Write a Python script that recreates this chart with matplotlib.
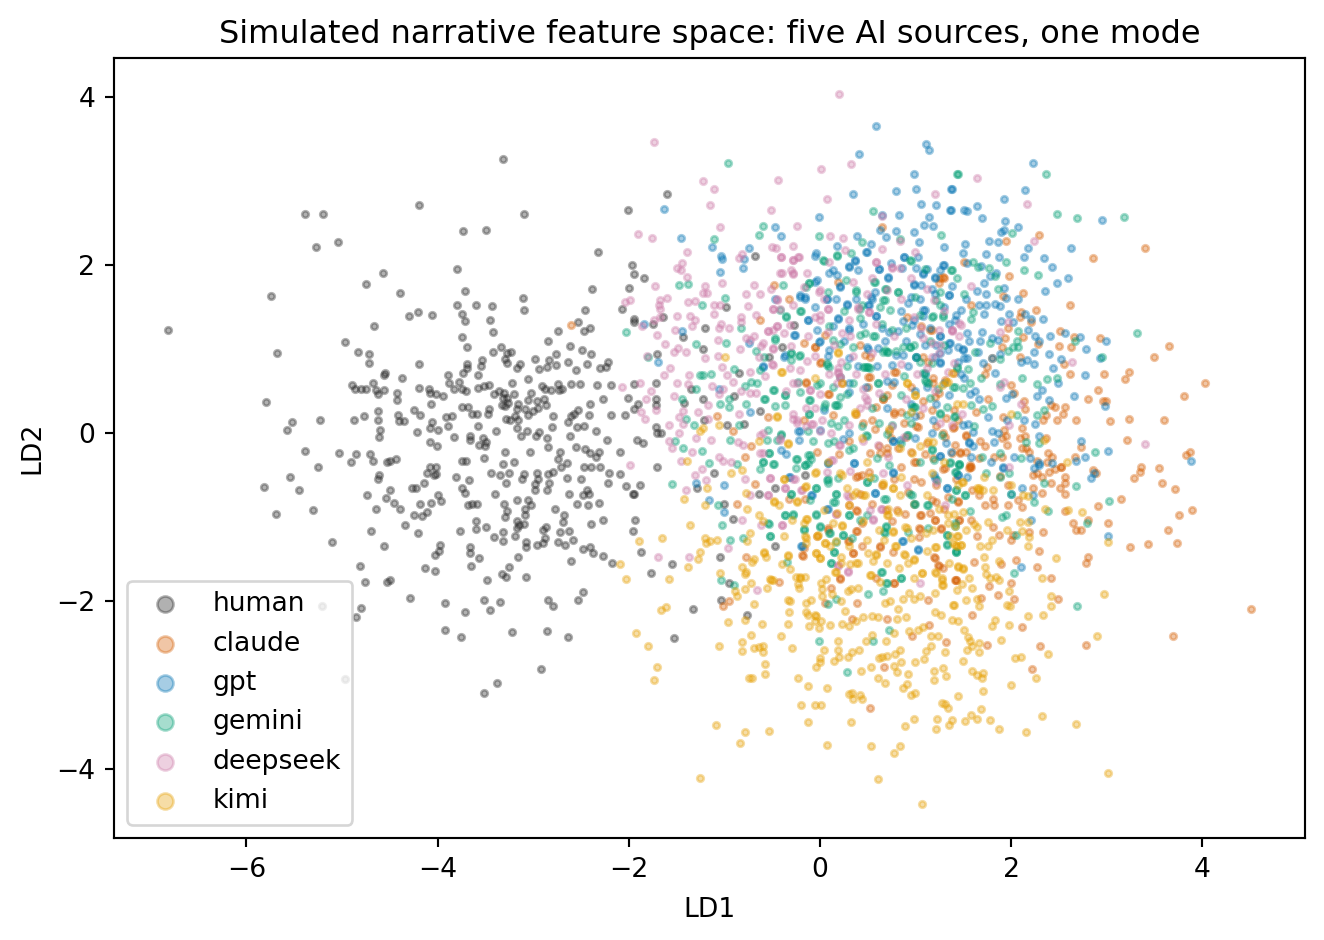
import matplotlib
matplotlib.use('Agg')
import matplotlib.pyplot as plt

# values as (LD1, LD2) pairs
human = [(-6.82,1.23),(-3.32,3.26),(-4.20,2.71),(-5.39,2.61),(-5.20,2.61),(-3.10,2.61),(-5.27,2.21),(-5.04,2.27),(-3.73,2.41),(-3.49,2.42),
(-3.80,1.95),(-4.57,1.90),(-4.75,1.77),(-4.39,1.67),(-5.74,1.63),(-3.71,1.69),(-3.11,1.61),(-2.32,2.16),(-2.38,1.72),(-3.80,1.52),
(-3.60,1.52),(-3.43,1.51),(-3.10,1.47),(-2.46,1.47),(-3.75,1.42),(-3.71,1.33),(-4.30,1.39),(-4.21,1.44),(-4.06,1.41),(-3.45,1.35),
(-3.42,1.20),(-4.67,1.27),(-4.97,1.08),(-4.83,0.97),(-4.72,0.94),(-4.72,0.83),(-5.68,0.95),(-4.20,0.82),(-3.74,1.14),(-3.69,1.02),
(-2.74,1.21),(-2.53,1.32),(-2.47,1.21),(-2.41,1.25),(-2.84,1.10),(-2.61,1.04),(-2.49,0.99),(-2.40,0.94),(-3.34,1.03),(-3.42,0.96),
(-3.23,0.96),(-3.27,0.95),(-2.98,0.88),(-2.76,0.94),(-2.83,0.87),(-2.64,0.84),(-3.54,0.87),(-3.29,0.88),(-3.27,0.83),(-3.55,0.80),
(-3.69,0.82),(-3.69,0.77),(-3.73,0.71),(-3.89,0.69),(-3.58,0.69),(-3.14,0.82),(-3.17,0.78),(-2.94,0.76),(-2.86,0.79),(-2.76,0.81),
(-2.55,0.75),(-2.44,0.82),(-2.30,0.78),(-2.24,0.79),(-2.22,0.85),(-4.55,0.72),(-4.56,0.69),(-4.37,0.65),(-4.90,0.57),(-4.68,0.59),
(-4.86,0.52),(-4.80,0.52),(-4.75,0.53),(-4.64,0.51),(-4.56,0.51),(-4.62,0.46),(-4.43,0.48),(-4.42,0.39),(-4.20,0.54),(-4.09,0.53),
(-4.08,0.48),(-4.02,0.46),(-3.94,0.44),(-4.07,0.35),(-3.88,0.59),(-3.83,0.53),(-3.78,0.61),(-3.75,0.52),(-3.70,0.50),(-3.58,0.54),
(-3.51,0.56),(-3.46,0.57),(-3.22,0.60),(-3.05,0.64),(-3.02,0.48),(-3.20,0.47),(-3.41,0.46),(-3.36,0.50),(-3.31,0.48),(-3.32,0.42),
(-3.27,0.42),(-3.26,0.36),(-3.33,0.33),(-3.29,0.32),(-3.16,0.35),(-3.17,0.29),(-3.05,0.39),(-2.96,0.38),(-2.89,0.40),(-2.87,0.33),
(-2.95,0.30),(-3.09,0.29),(-3.00,0.26),(-3.05,0.22),(-2.91,0.56),(-2.88,0.53),(-2.81,0.51),(-2.74,0.58),(-2.70,0.52),(-2.73,0.51),
(-2.60,0.58),(-2.51,0.58),(-2.33,0.57),(-2.19,0.57),(-2.27,0.41),(-2.41,0.34),(-2.53,0.28),(-2.57,0.23),(-2.60,0.20),(-2.64,0.13),
(-2.42,0.22),(-2.19,0.22),(-2.79,0.20),(-2.80,0.07),(-2.54,0.07),(-2.47,0.08),(-2.34,0.02),(-2.23,-0.08),(-2.61,-0.03),(-5.80,0.37),
(-5.52,0.13),(-5.58,0.04),(-5.23,0.16),(-4.88,0.15),(-4.77,0.20),(-4.62,0.26),(-4.62,0.15),(-4.60,0.04),(-4.61,-0.05),(-4.41,0.22),
(-4.40,0.14),(-4.35,0.14),(-4.25,0.28),(-4.18,0.21),(-4.22,0.01),(-4.06,0.13),(-4.08,0.06),(-4.00,0.04),(-3.91,0.19),(-3.85,0.20),
(-3.89,0.08),(-3.83,-0.05),(-4.08,-0.11),(-4.01,-0.15),(-3.74,0.31),(-3.68,0.31),(-3.64,0.23),(-3.59,0.23),(-3.46,0.29),(-3.47,0.23),
(-3.58,0.08),(-3.66,-0.03),(-3.66,-0.08),(-3.52,-0.06),(-3.49,-0.11),(-3.57,-0.14),(-3.50,-0.15),(-3.39,0.03),(-3.28,0.17),(-3.24,0.16),
(-3.19,0.20),(-3.16,0.15),(-3.17,0.06),(-3.13,-0.04),(-3.06,0.03),(-2.97,-0.04),(-2.94,0.01),(-2.86,-0.06),(-2.84,-0.17),(-3.03,-0.22),
(-3.30,-0.22),(-3.51,-0.30),(-3.75,-0.33),(-3.70,-0.33),(-3.32,-0.37),(-3.20,-0.35),(-2.72,-0.23),(-2.74,-0.31),(-2.55,-0.17),(-2.46,-0.19),
(-2.41,-0.24),(-2.31,-0.23),(-2.34,-0.29),(-2.47,-0.40),(-2.40,-0.41),(-2.30,-0.41),(-2.65,-0.36),(-2.71,-0.40),(-2.79,-0.46),(-2.84,-0.49),
(-2.83,-0.59),(-2.96,-0.48),(-2.95,-0.55),(-2.98,-0.61),(-2.98,-0.68),(-2.86,-0.68),(-3.10,-0.49),(-3.12,-0.55),(-3.25,-0.47),(-3.35,-0.50),
(-3.44,-0.48),(-3.28,-0.60),(-3.40,-0.72),(-2.65,-0.54),(-2.50,-0.55),(-2.21,-0.48),(-2.22,-0.60),(-2.44,-0.68),(-2.42,-0.73),(-2.48,-0.74),
(-2.63,-0.72),(-2.54,-0.84),(-2.43,-0.86),(-2.31,-0.83),(-2.27,-1.03),(-2.40,-1.08),(-2.77,-0.91),(-2.68,-0.97),(-2.69,-1.06),(-2.63,-1.16),
(-2.72,-1.18),(-2.58,-1.27),(-2.67,-1.33),(-2.74,-1.30),(-2.90,-1.31),(-2.96,-1.33),(-2.88,-1.25),(-2.87,-1.12),(-2.90,-1.15),(-2.48,-1.38),
(-2.41,-1.36),(-2.37,-1.43),(-2.27,-1.46),(-2.60,-1.52),(-2.18,-1.55),(-3.16,-1.47),(-3.08,-1.30),(-3.08,-1.36),(-3.17,-1.13),(-3.19,-1.23),
(-3.32,-1.18),(-3.32,-1.28),(-3.41,-1.24),(-3.49,-1.12),(-3.60,-1.05),(-3.60,-1.14),(-3.77,-1.17),(-3.17,-1.05),(-3.10,-1.08),(-3.15,-1.10),
(-3.09,-0.97),(-3.27,-0.93),(-3.30,-1.00),(-3.31,-0.84),(-3.17,-0.80),(-3.05,-0.80),(-3.02,-0.86),(-3.09,-0.90),(-3.59,-0.84),(-3.64,-0.85),
(-3.68,-0.86),(-3.71,-0.71),(-3.74,-0.65),(-3.67,-0.56),(-3.81,-0.52),(-4.02,-0.49),(-4.11,-0.47),(-4.08,-0.40),(-4.02,-0.40),(-4.04,-0.50),
(-4.14,-0.60),(-4.23,-0.66),(-4.27,-0.66),(-4.50,-0.68),(-4.74,-0.74),(-4.54,-0.77),(-4.46,-0.83),(-4.39,-0.90),(-4.65,-0.90),(-4.18,-0.84),
(-4.07,-0.83),(-3.96,-0.81),(-4.00,-0.74),(-4.11,-0.94),(-4.16,-0.99),(-4.25,-0.97),(-4.34,-1.09),(-4.70,-1.16),(-4.21,-1.19),(-5.11,-1.30),
(-4.56,-1.35),(-3.97,-1.33),(-3.99,-1.40),(-4.03,-1.45),(-4.81,-1.58),(-4.13,-1.61),(-4.03,-1.64),(-3.66,-1.36),(-3.66,-1.43),(-3.57,-1.49),
(-3.65,-1.58),(-3.25,-1.59),(-3.33,-1.68),(-3.28,-1.71),(-3.07,-1.71),(-3.48,-1.75),(-4.50,-1.75),(-5.03,-0.24),(-4.85,-0.25),(-4.71,-0.25),
(-4.68,-0.33),(-4.91,-0.35),(-5.39,-0.21),(-5.25,-0.40),(-5.54,-0.52),(-5.45,-0.68),(-5.82,-0.64),(-5.69,-0.96),(-5.30,-0.92),(-4.53,-0.34),
(-4.50,-0.33),(-4.44,-0.31),(-4.61,-0.50),(-4.62,-0.55),(-3.92,-2.02),(-3.71,-2.13),(-4.29,-1.96),(-4.53,-1.77),(-4.76,-1.77),(-4.85,-2.19),
(-4.80,-2.08),(-5.21,-2.06),(-4.97,-2.93),(-3.92,-2.35),(-3.76,-2.43),(-3.51,-3.10),(-3.38,-2.98),(-2.92,-2.81),(-3.22,-2.37),(-2.86,-2.36),
(-2.64,-2.43),(-2.85,-1.99),(-2.79,-2.06),(-2.48,-1.89),(-2.53,-1.99),(-3.45,-2.11),(-3.51,-1.99),(-3.35,-2.01),(-1.60,2.85),(-2.01,2.65),
(-0.68,2.11),(-1.97,2.00),(-1.95,1.89),(-1.84,1.85),(-2.00,1.73),(-2.07,1.48),(-0.98,1.50),(-1.94,1.36),(-1.95,1.32),(-1.75,1.30),
(-1.64,1.38),(-1.20,1.25),(-1.43,1.14),(-1.22,1.00),(-1.70,0.94),(-0.40,1.02),(-0.27,1.29),(-0.85,0.71),(-1.95,0.58),(-1.71,0.59),
(-1.35,0.52),(-0.90,0.44),(-2.01,0.42),(-1.71,0.41),(-1.71,0.33),(-1.42,0.36),(-1.22,0.41),(-1.90,0.34),(-1.94,0.29),(-2.04,0.21),
(-1.21,0.15),(-0.97,0.10),(-0.79,0.11),(-1.72,0.07),(-0.63,0.26),(-1.91,-0.08),(-1.85,-0.12),(-1.70,0.00),(-1.66,0.00),(-2.09,-0.23),
(-1.70,-0.40),(-2.09,-0.49),(-2.03,-0.63),(-1.88,-0.62),(-1.96,-0.73),(-1.94,-0.73),(-1.11,-0.47),(-1.29,-0.65),(-1.00,-0.85),(-0.91,-1.02),
(-1.93,-1.04),(-1.96,-1.16),(-1.87,-1.42),(-1.05,-1.47),(-1.55,-1.56),(-1.77,-1.67),(-0.95,-1.78),(-1.03,-1.99),(-1.33,-2.10),(-0.76,-2.16),
(-1.53,-2.44),(-0.47,-1.35),(-0.64,-0.72),(-0.16,-0.50),(-0.53,0.90),(-0.47,-0.66)]

claude = [(3.40,2.20),(2.86,2.08),(2.29,2.36),(1.95,2.29),(1.51,2.04),(1.98,1.87),(2.13,1.67),(1.92,1.63),(2.62,1.52),(1.58,1.52),
(2.26,1.46),(2.10,1.44),(2.09,1.38),(2.21,1.32),(1.97,1.25),(2.51,1.21),(2.66,1.14),(2.93,1.13),(3.65,1.04),(2.13,1.14),
(1.94,1.13),(1.91,1.03),(2.28,1.06),(2.50,1.04),(2.63,1.03),(3.50,0.90),(2.09,0.91),(1.80,0.89),(2.55,0.82),(1.75,0.79),
(3.23,0.73),(3.19,0.64),(2.62,0.70),(2.97,0.70),(1.73,0.70),(4.03,0.59),(2.00,0.57),(2.91,0.51),(2.03,0.48),(3.81,0.44),
(2.81,0.40),(2.96,0.38),(2.99,0.38),(2.14,0.38),(1.76,0.40),(2.46,0.31),(2.56,0.31),(2.15,0.29),(2.42,0.33),(2.54,0.23),
(1.63,0.25),(2.37,0.21),(2.34,0.16),(1.92,0.19),(2.48,0.15),(2.68,0.15),(3.04,0.14),(3.24,0.17),(3.60,0.15),(1.39,0.06),
(1.93,0.04),(2.11,0.06),(1.95,-0.03),(3.21,-0.08),(1.91,-0.06),(2.09,-0.06),(2.15,-0.04),(2.37,-0.06),(1.53,-0.03),(1.68,-0.09),
(1.96,-0.14),(1.73,-0.15),(1.41,-0.14),(2.73,-0.17),(2.11,-0.18),(2.16,-0.18),(2.19,-0.23),(2.39,-0.24),(2.43,-0.28),(3.87,-0.22),
(3.83,-0.26),(1.47,-0.24),(1.53,-0.23),(1.82,-0.28),(1.91,-0.29),(1.66,-0.30),(2.67,-0.29),(2.27,-0.33),(2.38,-0.35),(3.36,-0.40),
(3.55,-0.42),(2.52,-0.41),(1.57,-0.40),(3.35,-0.46),(3.29,-0.54),(3.58,-0.59),(3.72,-0.67),(3.15,-0.78),(2.91,-0.87),(3.89,-0.92),
(3.76,-0.98),(2.57,-0.93),(2.81,-1.04),(3.01,-1.07),(2.65,-1.07),(2.68,-1.15),(2.73,-1.15),(3.64,-1.15),(3.74,-1.31),(3.43,-1.32),
(3.25,-1.36),(2.34,-1.18),(2.29,-1.40),(2.81,-1.47),(2.78,-1.55),(2.27,-1.60),(2.42,-1.73),(2.49,-1.97),(4.51,-2.10),(3.70,-2.42),
(2.78,-2.52),(2.30,-2.54),(2.22,-2.81),(2.12,-2.31),(1.75,-2.52),(1.59,-2.17),(2.03,-1.97),(1.86,-1.93),(1.69,-1.96),(2.00,-1.78),
(1.77,-1.82),(1.42,-1.75),(1.61,-1.53),(1.90,-1.56),(2.05,-1.51),(1.87,-1.21),(1.64,-1.22),(1.81,-1.12),(1.58,-1.03),(1.46,-1.03),
(2.19,-1.18),(2.00,-1.27),(2.02,-1.21),(1.97,-0.86),(1.82,-0.86),(1.73,-0.86),(1.81,-0.79),(2.07,-0.80),(2.11,-0.88),(2.32,-0.71),
(2.23,-0.65),(1.97,-0.62),(1.45,-0.81),(1.66,-0.74),(1.59,-0.68),(2.51,-0.65),(2.57,-0.72),(2.57,-0.59),(2.56,-0.52),(2.42,-0.59),
(2.32,-0.52),(2.23,-0.50),(2.27,-0.47),(2.40,-0.46),(2.46,-0.43),(2.52,-0.41),(2.89,-0.47),(2.86,-0.44),(1.57,-0.38),(1.56,-0.42),
(1.89,-0.51),(-0.87,-0.85),(-0.77,-1.48),(-0.43,-1.77),(-0.95,-2.00),(-1.01,-2.06),(-0.32,-0.79),(-0.68,-0.61),(-0.18,-1.46),(-0.17,-1.37),
(0.12,-1.84),(0.05,-2.02),(0.39,-2.02),(0.34,-2.21),(0.70,-2.21),(0.96,-2.41),(1.14,-2.28),(1.32,-2.49),(0.67,-2.78),(0.52,-3.27),
(1.13,-1.99),(0.78,-1.79),(0.59,-1.72),(0.21,-1.74),(0.35,-1.43),(0.63,-1.36),(0.44,-1.34),(0.76,-1.42),(1.20,-1.49),(1.25,-1.58),
(1.42,-1.75),(0.29,-1.29),(0.39,-1.17),(0.08,-1.15),(-0.03,-1.22),(0.44,-1.07),(0.39,-0.93),(0.30,-0.86),(0.81,-0.92),(0.89,-0.96),
(1.06,-0.98),(1.04,-1.13),(1.04,-1.24),(1.27,-1.13),(1.20,-1.03),(0.40,-0.51),(0.51,-0.46),(0.70,-0.24),(0.98,-0.34),(1.31,-0.42),
(0.82,-0.18),(0.52,-0.24),(1.06,-0.58),(1.34,-0.76),(0.69,-0.92),(-0.03,-0.22),(-0.72,-0.15),(-0.91,0.02),(-0.78,-0.29),(-0.16,-0.78),
(-0.48,1.76),(-0.32,1.59),(-0.63,1.35),(0.65,2.45),(1.30,1.85),(1.25,1.78),(-0.17,1.07),(0.19,1.80),(-0.05,1.03),(0.05,1.17),
(0.42,1.05),(0.00,0.83),(0.47,0.93),(0.52,0.91),(0.91,1.38),(1.06,1.27),(1.15,1.23),(1.13,0.85),(1.40,0.71),(0.80,0.73),
(0.75,0.57),(0.23,0.59),(0.66,0.41),(0.78,0.25),(0.52,0.67),(0.10,0.47),(0.14,0.21),(-0.14,0.59),(-1.08,0.20),(-0.54,0.19),
(-0.17,0.15),(0.59,0.31),(1.17,0.27),(1.40,0.27),(1.01,0.08),(0.38,0.23),(-2.60,1.29),(0.88,0.12),(1.05,0.22),(1.22,0.08),
(1.31,-0.05),(1.12,-0.12),(0.95,-0.22),(0.74,-0.06),(0.58,0.05),(0.85,-0.40),(1.18,-0.30),(1.42,-0.55),(0.65,-0.62),(0.92,-0.70),
(-0.05,1.02),(0.01,0.85),(0.50,0.67),(0.78,0.73),(1.08,0.91),(-0.14,0.61),(0.09,0.47),(0.50,0.55),(0.66,0.41),(0.78,0.23),
(1.26,1.84),(1.29,1.86),(1.17,1.23),(1.18,0.59),(1.31,0.63),(1.20,0.43),(0.09,-1.13),(0.38,-1.17),(0.30,-1.29),(0.35,-1.43),
(0.63,-1.35),(0.44,-0.50),(0.38,-0.52),(0.70,-0.18),(0.63,-0.24),(1.01,-0.34),(1.03,0.07),(0.38,-0.92),(-0.19,-1.45),(0.21,-1.73),
(0.78,-1.79),(1.05,-0.98),(1.05,-1.14),(1.40,0.07),(1.29,0.00),(1.53,-0.02),(1.38,-0.24),(1.47,-0.22),(1.29,-0.43),(1.58,-0.40),
(1.22,-0.82),(1.45,-0.82),(1.17,-0.80),(1.20,-1.04),(1.46,-1.03),(1.27,-1.14),(1.19,-1.47),(1.24,-1.57),(1.29,-1.61),(1.41,-1.75),
(0.55,0.15),(0.70,0.45),(0.85,0.25),(0.95,0.55),(1.08,0.38),(1.25,0.48),(1.32,0.18),(0.90,-0.05),(1.10,-0.25),(0.62,-0.15),
(0.45,0.12),(0.30,-0.10),(1.18,0.65),(0.72,0.02),(0.98,-0.55),(1.22,-0.62),(0.78,-0.55),(0.55,-0.85),(0.98,-0.85),(1.15,-0.95),
(0.42,-0.72),(0.75,-1.05),(1.30,-0.90),(0.20,-0.25),(1.45,0.15)]

gpt = [(0.59,3.65),(1.11,3.44),(1.14,3.37),(0.41,3.32),(0.98,3.08),(0.80,2.88),(1.01,2.90),(1.37,2.90),(0.35,2.85),(1.06,2.73),
(1.22,2.72),(1.36,2.66),(-0.01,2.57),(-1.63,2.67),(0.83,2.60),(0.65,2.59),(1.14,2.57),(1.09,2.48),(1.18,2.47),(-0.47,2.45),
(0.63,2.42),(-0.41,2.34),(0.80,2.40),(0.98,2.39),(-1.45,2.32),(0.39,2.34),(0.69,2.33),(-1.13,2.21),(1.04,2.27),(1.30,2.22),
(0.18,2.23),(0.53,2.25),(-0.74,2.20),(0.48,2.15),(-0.05,2.11),(-1.03,2.11),(-1.02,2.07),(-0.79,2.07),(0.37,2.05),(-0.80,1.96),
(-1.05,1.92),(0.30,1.98),(0.40,1.94),(0.62,1.95),(0.74,2.02),(0.88,2.09),(1.03,2.10),(0.71,1.85),(0.86,1.96),(1.29,2.00),
(0.14,1.94),(-0.03,1.82),(1.20,1.85),(1.08,1.89),(0.98,1.77),(0.21,1.74),(-0.21,1.62),(-0.16,1.60),(0.07,1.59),(0.28,1.53),
(0.51,1.52),(1.35,1.64),(-0.47,1.59),(-1.84,1.30),(-1.44,1.22),(-1.69,0.85),(-0.74,1.07),(-0.27,1.17),(-0.12,1.35),(0.19,1.36),
(0.59,1.39),(0.87,1.33),(1.08,1.46),(1.26,1.15),(1.36,1.07),(-0.03,1.23),(0.14,1.28),(0.00,1.09),(0.09,0.92),(-0.59,0.80),
(-0.38,0.91),(0.30,1.23),(0.49,1.03),(0.80,0.93),(1.01,0.91),(1.26,0.83),(0.78,0.61),(0.30,0.49),(0.04,0.27),(-0.73,0.25),
(-1.06,0.53),(2.23,3.21),(2.15,2.89),(1.93,2.79),(1.38,2.90),(1.37,2.66),(1.51,2.66),(1.54,2.64),(1.64,2.70),(1.70,2.56),
(1.94,2.52),(2.07,2.45),(1.93,2.42),(1.90,2.39),(2.95,2.53),(1.77,2.29),(1.86,2.27),(1.52,2.25),(2.18,2.20),(2.63,2.20),
(1.50,2.14),(1.74,2.13),(1.87,2.10),(2.14,2.09),(2.35,2.08),(2.43,1.98),(1.54,2.02),(1.69,1.99),(1.84,1.90),(1.78,1.87),
(2.60,1.84),(2.48,1.78),(1.72,1.79),(1.93,1.73),(1.64,1.69),(2.36,1.69),(1.74,1.66),(1.95,1.61),(2.07,1.59),(1.53,1.60),
(1.66,1.53),(1.74,1.53),(1.83,1.54),(1.89,1.51),(1.48,1.47),(1.72,1.42),(1.98,1.42),(2.15,1.42),(2.34,1.36),(2.21,1.36),
(1.41,1.35),(1.90,1.33),(2.02,1.32),(2.18,1.23),(1.54,1.19),(1.70,1.20),(2.41,1.16),(2.56,1.19),(2.25,1.16),(1.80,1.13),
(1.86,1.11),(1.68,1.10),(1.56,1.09),(2.72,1.14),(2.29,1.09),(2.99,1.09),(1.45,1.02),(2.79,1.00),(2.24,0.97),(2.40,0.94),
(2.93,0.89),(2.52,0.88),(1.50,1.00),(1.65,0.96),(1.80,0.89),(1.89,0.94),(2.10,0.85),(2.17,0.87),(2.24,0.82),(1.71,0.83),
(1.51,0.89),(2.44,0.78),(1.83,0.72),(2.77,0.69),(1.51,0.66),(2.49,0.59),(2.32,0.51),(1.62,0.50),(1.57,0.47),(2.27,0.44),
(2.01,0.46),(1.95,0.42),(2.66,0.44),(2.40,0.39),(1.67,0.40),(2.98,0.32),(1.76,0.19),(1.96,0.16),(2.14,0.16),(2.25,0.11),
(1.55,0.11),(1.50,0.09),(1.60,0.01),(1.80,0.03),(1.86,0.00),(2.29,-0.04),(2.73,-0.09),(1.56,-0.11),(1.82,-0.11),(1.60,-0.16),
(3.02,-0.21),(2.77,-0.28),(2.68,-0.33),(2.03,-0.28),(2.20,-0.30),(1.79,-0.34),(1.58,-0.29),(2.43,-0.36),(1.92,-0.41),(2.29,-0.36),
(3.02,-1.22),(3.88,-0.33),(2.87,-0.47),(2.84,-0.53),(2.10,-1.60),(2.21,-1.03),(2.23,-0.74),(2.11,-0.66),(2.00,-0.73),(1.54,-0.52),
(1.45,-0.50),(1.92,-0.42),(2.29,-0.38),(2.24,-0.42),(-1.30,-0.60),(-1.00,-0.62),(-1.16,-0.80),(-1.00,-0.94),(-0.20,-1.35),(0.86,-1.28),
(1.03,-1.38),(-0.32,-0.52),(-0.08,-0.74),(0.08,-0.90),(0.77,-0.47),(0.58,-0.71),(0.36,-0.36),(0.09,-0.36),(-0.21,0.02),(0.24,-0.07),
(0.77,-0.10),(1.00,-0.06),(1.26,-0.27),(1.33,-0.66),(0.30,0.60),(0.60,0.80),(1.00,0.50),(1.20,0.90),(0.90,1.10),(1.30,0.60),
(1.00,0.20),(0.70,0.30),(0.50,1.00),(1.15,1.25),(0.85,1.45),(1.20,1.65),(0.55,1.60),(0.95,1.62),(1.10,1.05),(1.35,1.30),
(0.72,1.20),(0.40,0.80),(1.45,0.85),(1.10,0.70),(-0.04,2.14),(0.30,1.99),(0.10,1.90),(0.18,1.88),(0.37,2.06),(0.49,2.15),
(0.71,1.86),(0.62,1.95),(0.88,2.10),(1.01,1.96),(1.08,1.90),(-0.21,1.64),(-0.16,1.62),(-0.05,1.80),(-0.05,1.50),(0.07,1.59),
(0.17,1.60),(0.21,1.75),(0.54,1.62),(0.98,1.76),(1.06,1.76),(-0.12,1.35),(0.19,1.37),(0.28,1.54),(0.50,1.52),(0.59,1.39),
(-0.26,1.17),(-0.01,1.08),(0.30,1.25),(0.10,0.99),(-0.37,0.93),(0.30,0.89),(-0.59,0.79),(0.75,0.81),(0.61,1.01),(0.87,0.93),
(1.01,0.91),(1.10,1.46),(0.99,1.35),(0.96,1.29),(1.08,1.39),(1.20,1.86),(1.26,1.94),(1.30,2.00),(1.35,1.64),(1.17,1.72),
(1.26,1.15),(1.35,1.07),(1.26,0.95),(1.26,0.85),(1.34,0.99),(1.50,0.99),(1.54,0.89),(-0.23,0.02),(-0.22,-0.08),(-0.41,-0.20),
(-0.35,-0.25),(-0.31,-0.52),(-0.09,-0.74),(0.07,-0.90),(0.36,-0.36),(0.09,-0.36),(0.77,-0.46),(0.58,-0.71),(-0.19,-1.35),(0.87,-1.28),
(1.03,-1.39),(0.77,-0.09),(0.84,-0.08),(0.30,0.00),(0.00,0.04),(1.17,0.00),(1.32,-0.12),(1.26,-0.27),(1.37,-0.22),(1.19,-0.50),
(1.20,-0.54),(1.45,-0.50),(1.33,-0.66),(1.56,-0.12),(0.45,1.30),(0.68,1.10),(0.92,0.80),(1.12,0.55),(1.22,1.05),(1.05,1.18),
(0.82,1.22),(0.58,1.68),(0.38,1.60),(0.25,1.10),(1.42,1.40),(1.38,1.75),(1.48,0.70),(1.22,0.35),(0.95,0.35),(0.70,0.62),
(1.05,1.60),(1.30,1.50),(0.65,1.25),(1.12,1.95),(0.92,1.55),(1.35,0.45),(0.48,0.55),(1.18,0.15)]

gemini = [(-0.96,3.21),(1.44,3.08),(0.56,2.64),(-0.59,2.47),(-0.64,2.36),(-1.11,2.31),(-0.01,2.34),(1.27,2.36),(0.84,2.31),(0.44,2.27),
(0.18,2.11),(0.33,2.14),(0.04,2.05),(0.95,2.05),(1.37,1.94),(1.10,1.95),(-1.47,1.76),(-1.38,1.77),(-0.99,1.61),(-1.23,1.52),
(-0.11,1.78),(-0.39,1.76),(0.58,1.80),(0.38,1.70),(0.68,1.72),(0.82,1.68),(-0.42,1.47),(-0.20,1.45),(-0.35,1.38),(-2.03,1.20),
(-0.83,1.25),(-1.30,1.06),(-0.98,1.07),(-0.47,1.11),(-1.80,0.91),(-0.67,0.98),(-0.58,0.91),(-0.30,0.95),(-0.22,0.92),(-1.14,0.70),
(-1.25,0.69),(-1.22,0.69),(-1.30,0.53),(-0.63,0.75),(-0.90,0.76),(-0.78,0.56),(-0.72,0.61),(-0.66,0.60),(-0.48,0.51),(-0.37,0.45),
(-0.57,0.40),(-1.44,0.41),(-0.95,0.41),(-1.04,0.34),(-0.95,0.31),(-0.77,0.35),(-0.47,0.32),(-0.11,0.39),(-1.32,0.09),(-0.85,0.09),
(-0.11,0.23),(-1.40,0.17),(0.14,1.11),(0.42,1.48),(0.66,1.58),(1.00,1.62),(1.17,1.38),(1.29,1.38),(0.75,1.23),(0.94,1.03),
(0.70,0.97),(0.49,0.79),(0.07,0.83),(0.42,1.17),(0.58,1.15),(1.10,0.63),(1.00,0.31),(0.91,0.21),(0.61,0.59),(0.17,0.33),
(0.04,0.31),(0.21,0.67),(-0.03,0.57),(-0.21,0.49),(0.14,0.55),(0.35,0.59),(0.52,0.77),(1.26,0.23),(1.40,0.19),(1.45,3.08),
(2.37,3.08),(2.48,2.61),(2.69,2.56),(3.18,2.57),(2.01,2.38),(1.60,2.03),(1.95,2.03),(1.65,1.98),(1.77,1.96),(2.14,1.94),
(2.28,1.88),(1.83,1.87),(1.38,1.94),(1.43,1.84),(1.86,1.71),(1.51,1.65),(1.60,1.44),(1.58,1.36),(2.07,1.22),(3.32,1.19),
(2.67,1.10),(1.78,1.07),(2.06,1.09),(2.07,1.03),(2.02,1.02),(1.97,0.98),(1.62,0.96),(2.95,0.91),(1.89,0.88),(1.44,0.77),
(1.55,0.76),(2.12,0.66),(1.69,0.65),(2.38,0.64),(2.48,0.65),(2.27,0.58),(1.39,0.55),(1.57,0.59),(1.88,0.58),(1.50,0.54),
(1.80,0.32),(1.58,0.33),(1.71,0.29),(2.35,0.28),(2.06,0.22),(2.27,0.21),(1.41,0.20),(1.61,0.08),(2.16,-0.11),(2.29,-0.12),
(2.88,-0.23),(1.70,-0.28),(1.89,-0.24),(2.10,-0.30),(1.46,-0.37),(1.36,-0.36),(3.03,-0.81),(2.80,-1.07),(2.68,-0.63),(2.39,-0.93),
(2.35,-0.60),(2.24,-0.82),(2.05,-1.21),(2.03,-1.66),(2.69,-2.06),(1.91,-1.00),(1.95,-0.98),(1.98,-0.48),(1.89,-0.52),(1.74,-0.47),
(1.57,-0.93),(1.52,-0.74),(1.42,-0.68),(1.42,-0.46),(1.46,-0.37),(1.42,-1.41),(2.00,-0.73),(-1.55,-0.61),(-1.52,-0.10),(-1.43,-0.18),
(-1.23,-0.21),(-1.16,-0.36),(-0.87,-0.37),(-0.60,-0.34),(-0.63,-0.43),(-0.49,-0.37),(-0.53,-0.24),(-0.94,-0.08),(-0.55,-0.08),(-0.41,-0.02),
(-0.25,-0.31),(-0.25,-0.42),(-0.12,-0.36),(0.09,-0.60),(-0.04,-0.66),(-0.30,-0.73),(-0.10,-0.80),(-1.07,-0.86),(-0.36,-0.97),(-0.28,-0.97),
(-0.17,-1.15),(-0.04,-0.97),(-0.54,-1.07),(-1.02,-1.10),(-0.94,-1.27),(-0.80,-1.25),(-0.52,-1.23),(-0.34,-1.53),(-1.03,-1.75),(-0.90,-1.81),
(0.00,-1.11),(0.11,-1.19),(0.24,-1.21),(0.34,-1.25),(0.17,-1.30),(0.15,-1.42),(0.12,-1.55),(0.31,-0.98),(0.42,-1.04),(0.69,-1.11),
(0.67,-0.79),(0.67,-1.18),(0.92,-1.18),(1.13,-1.13),(1.33,-1.21),(1.33,-1.33),(1.42,-1.41),(1.41,-1.07),(0.65,-1.65),(0.69,-1.79),
(0.85,-1.73),(0.66,-1.88),(0.50,-1.92),(0.17,-1.98),(0.09,-2.04),(0.72,-2.34),(0.56,-2.47),(-0.01,-2.48),(0.28,-2.85),(1.00,-0.84),
(1.13,-0.86),(0.94,-0.72),(0.17,-0.72),(0.14,-0.82),(-0.16,-0.38),(-0.10,-0.26),(0.07,-0.56),(0.49,-0.58),(0.35,-0.18),(0.91,-0.02),
(1.17,-0.20),(0.85,-0.12),(0.62,0.12),(0.85,0.45),(1.15,0.42),(0.25,0.15),(0.48,-0.02),(1.05,-0.35),(0.72,-0.38),(1.28,-0.02),
(0.03,2.06),(0.18,2.12),(-0.11,1.78),(-0.14,1.74),(0.09,1.68),(0.27,1.82),(0.38,1.68),(0.57,1.80),(0.69,1.72),(0.82,1.68),
(0.94,2.06),(0.44,1.52),(0.63,1.50),(0.68,1.58),(0.73,1.46),(-0.35,1.39),(0.42,1.37),(-0.21,1.45),(0.10,1.27),(-0.47,1.13),
(0.47,1.19),(0.56,1.15),(0.68,0.99),(-0.30,0.95),(-0.21,0.93),(-0.30,0.87),(0.07,0.81),(0.21,1.06),(0.47,0.79),(0.61,0.59),
(0.94,1.03),(1.08,0.71),(1.11,0.61),(-0.49,0.51),(-0.37,0.45),(-0.58,0.41),(-0.10,0.39),(-0.23,0.61),(0.21,0.43),(0.28,0.47),
(0.05,0.35),(0.19,0.33),(0.98,0.31),(-0.11,0.23),(-0.37,0.33),(1.18,1.39),(1.22,1.58),(1.26,1.68),(1.26,1.52),(1.29,1.40),
(1.17,0.83),(1.24,0.53),(1.43,0.79),(1.41,0.55),(1.26,0.24),(1.33,0.31),(-0.54,0.04),(-0.41,-0.01),(-0.45,-0.08),(-0.12,0.02),
(-0.53,-0.24),(-0.60,-0.34),(-0.48,-0.37),(-0.24,-0.31),(-0.16,-0.38),(-0.12,-0.26),(0.09,-0.12),(-0.07,-0.10),(-0.09,-0.31),(0.09,-0.55),
(0.19,-0.54),(-0.30,-0.73),(-0.04,-0.66),(0.17,-0.72),(0.16,-0.82),(-0.28,-0.96),(-0.36,-0.97),(-0.53,-1.08),(-0.17,-1.14),(-0.04,-0.96),
(0.00,-1.12),(0.10,-1.19),(0.24,-1.21),(-0.52,-1.23),(0.31,-0.98),(0.49,-0.98),(0.69,-0.79),(0.69,-1.12),(0.68,-1.19),(0.96,-0.74),
(0.99,-0.84),(0.85,-1.73),(0.64,-1.65),(0.70,-1.79),(0.12,-1.55),(0.15,-1.41),(1.12,-0.86),(0.44,0.08),(0.19,0.08),(0.49,-0.04),
(0.70,-0.01),(0.92,-0.02),(0.57,-0.54),(0.49,-0.58),(1.17,-0.19),(1.19,-0.32),(1.36,-0.35),(1.46,-0.38),(1.41,-0.46),(1.23,-0.56),
(1.42,-0.68),(1.38,-0.78),(1.52,-0.74),(1.41,-1.11),(1.33,-1.21),(1.33,-1.32),(1.42,-1.40),(0.45,0.79),(0.50,0.79),(0.66,0.97),
(0.71,0.97),(0.87,1.03),(0.98,1.05),(1.01,0.91),(0.16,0.33),(0.96,0.31),(1.10,0.71),(1.13,0.59),(0.66,0.43),(0.00,0.59),
(0.10,0.79),(0.28,0.80),(0.35,1.02),(0.55,0.30),(0.75,0.10),(0.88,0.68),(1.05,0.85),(0.95,0.12),(0.30,-0.20),(0.60,-0.30),
(0.12,0.12),(0.80,0.98),(1.15,1.10),(0.65,1.30),(0.25,1.45),(0.90,1.25),(1.30,1.05),(1.05,1.40),(0.15,-0.10)]

deepseek = [(0.20,4.03),(-1.74,3.46),(0.01,3.14),(0.33,3.20),(-1.22,3.00),(-1.11,2.90),(-0.44,3.01),(-1.15,2.71),(0.07,2.78),(-0.51,2.65),
(1.20,2.85),(-1.05,2.45),(-0.24,2.46),(-1.90,2.37),(-1.76,2.32),(-1.39,2.16),(0.65,2.58),(0.11,2.34),(0.24,2.32),(0.84,2.29),
(-0.50,2.21),(-0.46,2.20),(-0.28,2.23),(0.65,2.19),(-0.41,2.10),(-0.23,2.09),(-0.85,2.08),(-0.81,2.13),(-1.44,2.02),(-1.50,1.96),
(-1.45,1.94),(-1.39,1.86),(-0.28,2.06),(-0.40,1.91),(-0.30,1.94),(-0.28,1.89),(-0.13,1.90),(-1.73,1.75),(-1.02,1.79),(-1.20,1.75),
(-0.69,1.76),(-0.77,1.66),(-0.63,1.65),(-1.22,1.67),(-1.18,1.67),(-1.60,1.61),(-1.67,1.58),(-1.99,1.58),(-2.04,1.56),(-1.68,1.53),
(-1.67,1.48),(-1.38,1.56),(-1.31,1.57),(-1.04,1.53),(-1.11,1.52),(-0.75,1.51),(-1.11,1.42),(-0.49,1.48),(-1.49,1.39),(-1.36,1.39),
(-1.31,1.35),(-0.83,1.38),(-0.83,1.32),(-0.67,1.40),(-1.74,1.35),(-1.67,1.38),(-1.86,1.28),(-1.03,1.30),(-1.34,1.28),(-1.06,1.25),
(-0.95,1.25),(-1.52,1.23),(-1.70,1.17),(-1.07,1.11),(-0.77,1.13),(-0.69,1.16),(-0.73,1.11),(-0.54,1.21),(-0.49,1.23),(-0.45,1.27),
(-1.62,1.06),(-1.48,1.01),(-1.53,0.97),(-1.40,0.96),(-0.84,1.00),(-0.62,1.04),(-0.49,1.00),(-0.30,1.04),(-1.81,0.92),(-1.20,0.89),
(-1.07,0.92),(-0.64,0.91),(-1.57,0.78),(-1.63,0.69),(-1.37,0.69),(-1.02,0.79),(-0.97,0.69),(-0.91,0.61),(-0.73,0.73),(-0.50,0.82),
(-1.88,0.59),(-1.49,0.60),(-1.38,0.58),(-2.07,0.55),(-1.13,0.56),(-1.77,0.50),(-1.53,0.44),(-1.82,0.40),(-1.01,0.52),(-1.06,0.47),
(-0.83,0.50),(-0.73,0.48),(-0.67,0.48),(-0.28,0.59),(-0.13,0.86),(-1.87,0.25),(-1.83,0.17),(-1.72,0.27),(-1.47,0.19),(-1.43,0.26),
(-1.28,0.25),(-1.17,0.33),(-1.17,0.17),(-0.85,0.23),(-1.58,0.09),(-1.43,0.11),(-0.28,0.17),(0.19,0.71),(0.40,1.48),(0.51,1.44),
(0.30,1.35),(0.59,1.30),(1.06,1.25),(1.08,1.13),(0.98,1.38),(0.85,1.60),(1.00,2.16),(0.75,1.98),(0.59,2.03),(0.49,1.65),
(0.00,1.70),(-0.05,1.38),(0.00,1.35),(0.04,1.60),(0.09,1.48),(0.26,2.18),(0.10,2.04),(-0.17,1.74),(-0.28,1.52),(-0.45,1.60),
(1.38,1.23),(1.19,1.58),(1.40,0.83),(1.12,0.77),(0.19,0.77),(0.21,0.67),(0.49,0.39),(-0.24,0.15),(-0.09,0.11),(-0.10,0.51),
(-1.47,0.00),(-1.30,-0.06),(-1.14,-0.08),(-1.58,-0.10),(-1.55,-0.18),(-1.34,-0.22),(-1.06,-0.29),(-1.01,-0.33),(-0.93,-0.34),(-1.45,-0.33),
(-1.99,-0.38),(-1.23,-0.43),(-1.31,-0.50),(-1.19,-0.56),(-1.40,-0.68),(-0.78,-0.55),(-0.73,-0.74),(-0.54,-0.74),(-0.37,-0.66),(-0.20,-0.68),
(-0.81,-1.04),(-0.62,-1.09),(-0.40,-1.10),(-0.96,-1.37),(-1.69,-1.48),(-1.37,-1.47),(-0.66,-1.87),(0.29,-1.65),(1.05,-1.79),(0.19,-1.58),
(0.17,-0.96),(0.56,-1.03),(0.65,-0.91),(0.52,-0.92),(-0.52,-0.53),(-0.28,-0.55),(-0.80,-0.14),(-0.63,-0.02),(-0.59,-0.24),(-0.86,-0.11),
(0.21,-0.14),(0.14,-0.32),(-0.42,-0.08),(0.66,-0.48),(0.91,-0.62),(0.28,-0.74),(1.64,3.03),(2.17,2.73),(2.24,2.29),(1.58,1.75),
(1.48,1.29),(1.38,1.22),(1.46,1.15),(1.89,1.20),(1.97,1.32),(2.64,0.84),(1.93,0.61),(1.89,0.55),(2.10,0.35),(1.49,0.23),
(1.98,0.10),(3.40,-0.13),(1.98,-0.41),(0.35,0.92),(0.62,0.48),(0.85,0.82),(-0.05,0.30),(0.30,0.10),(0.75,0.08),(1.02,0.70),
(-0.41,2.10),(-0.28,2.06),(-0.22,2.10),(-0.42,1.90),(-0.28,1.90),(-0.51,1.72),(-0.45,1.58),(-0.49,1.48),(-0.42,1.48),(-0.01,1.68),
(0.09,1.48),(0.00,1.41),(-0.54,1.21),(-0.45,1.27),(-0.38,1.19),(-0.31,1.29),(0.23,1.19),(-0.49,1.01),(-0.59,1.07),(-0.49,0.81),
(-0.57,0.68),(-0.31,0.77),(-0.21,0.75),(-0.24,0.59),(-0.10,0.51),(0.19,0.73),(0.21,0.67),(0.59,2.03),(0.75,1.97),(0.84,1.96),
(0.51,1.44),(0.40,1.50),(0.35,1.80),(0.45,0.53),(0.47,0.43),(0.49,0.33),(-0.28,0.23),(0.00,0.47),(1.25,1.23),(1.38,1.23),
(1.46,1.31),(1.17,0.91),(1.17,1.07),(1.26,1.05),(1.34,0.73),(-0.60,0.00),(-0.63,-0.24),(-0.40,-1.10),(-0.54,-0.74),(-0.37,-0.66),
(-0.19,-0.68),(-0.52,-0.53),(-0.26,-0.55),(0.20,-0.14),(0.12,-0.32),(0.61,-0.14),(0.71,-0.28),(0.07,-0.46),(0.56,-1.02),(0.64,-0.90),
(0.30,-0.76),(0.17,-0.96),(0.19,-1.57),(0.29,-1.64),(-0.14,0.08),(-0.07,0.11),(-0.24,0.12),(-0.42,-0.06),(0.12,0.00),(0.00,0.02),
(1.26,0.12),(1.38,0.10),(1.22,-0.58),(1.31,-0.86),(0.10,0.70),(0.18,0.60),(0.22,0.85),(0.38,0.70),(0.42,0.30),(-0.05,0.92),
(-0.15,0.30),(0.02,0.15),(0.55,0.95),(0.68,0.70),(0.90,0.40),(1.08,0.30),(1.20,0.50),(0.78,1.15),(0.32,1.15),(0.15,1.05),
(-0.12,1.15),(0.70,1.70),(0.95,1.85),(1.12,1.72),(0.88,-0.05),(0.45,-0.10),(0.32,-0.45),(1.25,0.95),(1.30,1.45),(0.55,1.85),
(0.08,1.20),(-0.35,0.50)]

kimi = [(-1.25,-4.10),(0.61,-4.12),(1.07,-4.42),(-1.09,-3.48),(-0.78,-3.56),(-0.53,-3.55),(-0.84,-3.69),(0.07,-3.71),(0.53,-3.72),(0.84,-3.73),
(0.78,-3.81),(-0.12,-3.44),(0.33,-3.44),(0.89,-3.49),(0.99,-3.40),(1.23,-3.40),(1.21,-3.52),(1.35,-3.47),(1.38,-3.42),(-0.20,-3.24),
(-0.05,-3.24),(0.01,-3.24),(-0.23,-2.91),(-0.12,-3.01),(0.07,-3.04),(-0.74,-2.92),(-0.71,-2.92),(-0.57,-2.87),(-0.57,-2.75),(-1.70,-2.79),
(-1.74,-2.94),(-1.80,-2.53),(-1.92,-2.38),(-1.06,-2.53),(-0.81,-2.49),(-0.82,-2.59),(-0.69,-2.56),(-0.64,-2.55),(-0.59,-2.53),(-0.60,-2.61),
(-0.29,-2.56),(-0.41,-2.41),(-0.72,-2.40),(-0.61,-2.27),(-0.96,-2.25),(-0.78,-2.23),(-0.69,-2.03),(-1.66,-2.11),(-1.61,-2.07),(-2.03,-1.74),
(-1.58,-1.74),(-2.09,-1.56),(-1.38,-1.59),(-1.28,-1.50),(-1.25,-1.42),(-1.89,-1.28),(-1.65,-1.25),(-1.36,-1.09),(-1.19,-1.31),(-1.20,-1.25),
(-1.15,-1.29),(-1.08,-1.27),(-0.76,-1.28),(-0.73,-1.19),(-0.38,-1.22),(-0.40,-1.56),(-0.58,-1.42),(-0.56,-1.47),(-0.69,-1.50),(-0.71,-1.54),
(-0.33,-1.46),(-0.31,-1.62),(-0.82,-1.60),(-0.77,-1.65),(-0.78,-1.68),(-1.05,-1.66),(-0.72,-1.79),(-0.78,-1.86),(-0.89,-1.88),(-0.87,-1.94),
(-0.55,-1.84),(-0.52,-1.74),(-0.49,-1.75),(-0.25,-1.71),(-0.21,-1.72),(-0.16,-1.71),(-0.23,-1.80),(-0.22,-1.85),(-0.33,-1.99),(-0.31,-2.00),
(-0.32,-2.13),(-0.33,-2.27),(-0.14,-2.13),(-0.12,-2.16),(-0.05,-2.16),(-0.04,-2.18),(-0.11,-2.30),(-0.05,-2.24),(0.01,-2.24),(-0.01,-2.32),
(0.11,-2.29),(0.23,-2.27),(0.30,-2.30),(0.26,-2.12),(0.38,-2.24),(0.45,-2.19),(0.55,-2.18),(0.61,-2.19),(0.81,-2.21),(0.90,-2.19),
(0.82,-2.10),(0.55,-2.40),(0.48,-2.48),(0.69,-2.48),(0.78,-2.38),(0.93,-2.36),(1.03,-2.35),(1.08,-2.31),(1.16,-2.41),(1.24,-2.42),
(1.16,-2.54),(1.11,-2.60),(1.31,-2.61),(0.19,-2.48),(0.19,-2.58),(0.04,-2.58),(0.00,-2.68),(0.00,-2.73),(-0.04,-2.79),(0.15,-2.71),
(0.20,-2.66),(0.29,-2.66),(0.34,-2.61),(0.41,-2.58),(0.62,-2.68),(0.65,-2.67),(0.70,-2.65),(0.79,-2.63),(0.84,-2.58),(0.85,-2.72),
(1.00,-2.73),(1.09,-2.69),(0.43,-2.83),(0.54,-2.79),(0.78,-2.77),(0.81,-2.84),(0.92,-2.87),(1.19,-2.83),(1.29,-2.80),(1.19,-2.94),
(1.32,-2.89),(0.61,-2.91),(0.68,-2.98),(0.91,-2.99),(0.87,-3.04),(1.00,-3.10),(0.95,-3.12),(0.30,-3.11),(0.34,-3.10),(0.35,-3.16),
(0.42,-3.12),(0.44,-3.17),(1.28,-3.21),(1.31,-3.23),(1.34,-3.27),(1.45,-3.13),(-1.39,-0.33),(-1.42,-0.78),(-1.18,-0.65),(-1.20,-0.86),
(-0.76,-0.90),(-0.64,-0.97),(-0.59,-1.05),(-0.93,-0.48),(-0.82,-0.44),(-0.77,-0.71),(-0.38,-0.55),(-0.15,-0.63),(-0.48,-0.81),(-0.43,-0.86),
(-0.24,-0.81),(-0.29,-1.03),(-0.17,-1.07),(-0.13,-1.02),(-0.03,-1.22),(-0.15,-1.25),(-0.15,-1.31),(0.05,-1.31),(0.11,-1.34),(-0.04,-1.43),
(0.00,-1.49),(0.22,-1.47),(0.22,-1.55),(0.17,-1.65),(0.06,-1.74),(0.01,-1.79),(0.02,-1.86),(0.02,-1.94),(0.13,-1.92),(-0.14,-2.02),
(-0.09,-1.99),(0.22,-2.00),(0.29,-1.88),(0.33,-1.86),(0.40,-1.85),(0.32,-1.56),(0.40,-1.55),(0.50,-1.43),(0.54,-1.69),(0.59,-1.44),
(0.56,-1.52),(0.83,-1.61),(0.63,-1.77),(0.88,-1.44),(0.99,-1.50),(1.07,-1.67),(0.99,-1.72),(1.21,-1.66),(1.28,-1.73),(1.28,-1.81),
(1.20,-1.90),(0.93,-1.90),(1.05,-1.94),(0.99,-1.97),(0.87,-1.98),(0.68,-2.02),(0.73,-2.00),(1.40,-2.05),(1.20,-2.13),(1.27,-2.16),
(1.38,-2.23),(1.45,-2.24),(0.77,-1.18),(0.67,-1.27),(0.79,-1.34),(1.21,-1.36),(1.44,-1.34),(0.23,-1.11),(0.14,-1.07),(0.49,-1.27),
(0.89,-1.12),(0.82,-0.94),(0.70,-0.98),(0.04,-0.92),(0.35,-0.74),(0.47,-0.74),(-0.05,-0.48),(0.21,-0.48),(0.44,-0.06),(0.66,-0.62),
(0.77,-0.66),(1.12,-0.74),(1.40,-0.96),(1.41,-1.11),(1.13,-0.10),(1.17,-0.48),(1.45,-0.62),(0.84,-0.18),(0.96,-0.24),(-0.64,-0.09),
(-0.33,-0.12),(-1.25,0.02),(-0.99,0.91),(-0.40,0.73),(-1.06,0.10),(0.19,0.95),(0.91,0.59),(1.34,0.61),(1.00,0.45),(-0.45,0.19),
(-1.22,0.06),(0.37,0.25),(3.01,-4.05),(2.16,-3.56),(1.87,-3.52),(2.68,-3.46),(2.32,-3.37),(1.78,-3.41),(1.69,-3.29),(1.64,-3.40),
(1.58,-3.36),(1.52,-3.43),(1.71,-3.07),(2.00,-3.00),(2.26,-2.91),(1.70,-2.92),(1.64,-2.88),(1.71,-2.86),(1.59,-2.83),(1.50,-2.71),
(2.04,-2.68),(2.10,-2.66),(2.39,-2.63),(2.90,-2.41),(1.90,-2.46),(1.67,-2.50),(1.67,-2.61),(1.54,-2.58),(1.59,-2.53),(1.57,-2.48),
(1.55,-2.43),(1.51,-2.34),(1.80,-2.30),(1.83,-2.22),(1.98,-2.29),(2.18,-2.18),(2.34,-2.16),(2.42,-2.06),(2.42,-1.94),(2.97,-1.92),
(1.99,-2.06),(1.96,-2.05),(1.98,-1.88),(1.67,-2.06),(1.64,-1.98),(1.53,-1.99),(1.39,-2.05),(1.43,-1.87),(1.49,-1.80),(1.59,-1.84),
(1.56,-1.72),(1.74,-1.68),(1.78,-1.73),(1.87,-1.75),(1.84,-1.71),(2.32,-1.72),(1.45,-1.59),(1.50,-1.62),(1.73,-1.59),(1.72,-1.47),
(1.87,-1.52),(2.47,-1.49),(3.02,-1.30),(2.18,-1.34),(1.68,-1.34),(1.76,-1.34),(1.80,-1.27),(1.48,-1.33),(1.39,-1.31),(1.96,-1.15),
(2.11,-1.16),(2.19,-1.24),(1.53,-1.15),(1.44,-1.23),(1.64,-1.12),(1.61,-1.08),(1.76,-1.06),(2.09,-1.06),(2.18,-1.06),(2.74,-0.94),
(2.60,-0.92),(2.36,-0.90),(1.50,-0.94),(2.59,-0.34),(2.18,-0.75),(2.13,-0.74),(1.81,-0.68),(1.71,-0.68),(1.66,-0.65),(2.00,-0.62),
(1.49,-0.58),(1.72,-0.52),(2.35,-0.08),(2.00,0.23),(0.23,0.59),(-0.05,0.65),(-0.41,0.73),(0.19,0.96),(0.37,0.23),(-0.45,0.20),
(1.00,0.45),(0.91,0.59),(1.38,0.71),(1.28,0.57),(1.32,0.61),(1.43,0.35),(1.50,0.35),(-0.33,-0.13),(-0.38,-0.55),(-0.16,-0.64),
(-0.24,-0.82),(-0.48,-0.82),(-0.04,-0.46),(0.23,-0.50),(0.30,-0.86),(0.38,-0.70),(0.45,-0.74),(0.49,-0.34),(0.28,-0.66),(0.76,-0.66),
(0.66,-0.60),(-0.02,-1.21),(-0.16,-1.23),(-0.14,-1.02),(0.23,-1.10),(0.71,-0.90),(0.71,-0.98),(0.91,-1.13),(0.77,-1.17),(0.80,-1.35),
(0.89,-1.45),(0.99,-1.51),(1.07,-1.67),(-0.04,-1.43),(0.00,-1.49),(-0.33,-1.45),(0.17,-1.29),(0.05,-1.31),(-0.58,-1.43),(-0.21,-1.71),
(-0.51,-1.75),(0.16,-1.65),(0.38,-1.55),(0.52,-1.69),(0.59,-1.45),(0.84,-0.74),(1.11,-1.19),(1.18,-0.11),(1.50,-0.58),(1.25,-0.90),
(1.34,-0.98),(1.18,-1.15),(1.34,-1.07),(1.45,-1.23),(1.41,-1.33),(1.48,-1.33),(1.20,-1.36),(1.45,-1.58),(1.50,-1.61),(1.20,-1.65),
(1.28,-1.75),(1.29,-1.81),(1.36,-1.23),(1.64,-0.66),(1.67,-0.68),(0.52,-0.52),(0.85,-0.52),(0.62,-1.15),(0.95,-1.25),(1.12,-1.40),
(0.70,-1.55),(0.45,-1.05),(0.30,-1.35),(1.35,-1.55),(0.92,-1.55),(0.72,0.05),(0.95,0.25),(0.18,-0.95),(0.08,-0.35),(1.30,-0.35),
(1.05,-0.15)]

labels = ['human', 'claude', 'gpt', 'gemini', 'deepseek', 'kimi']
colors = ['#222222', '#D55E00', '#0072B2', '#009E73', '#CC79A7', '#E69F00']
groups = [human, claude, gpt, gemini, deepseek, kimi]

fig = plt.figure(figsize=(1324/192, 940/192), dpi=192)
ax = fig.add_axes([114/1324, 1 - 838/940, (1305 - 114)/1324, (838 - 58)/940])

for pts, name, c in zip(groups, labels, colors):
    xs, ys = zip(*pts)
    ax.scatter(xs, ys, s=6, alpha=0.35, color=c, label=name)

ax.set_ylim(-4.82, 4.464)
ax.set_title('Simulated narrative feature space: five AI sources, one mode', fontsize=12, pad=5.5)
ax.set_xlabel('LD1', labelpad=5.5)
ax.set_ylabel('LD2')
ax.legend(loc='lower left', markerscale=2.45, labelspacing=0.5)

fig.savefig('out.png', dpi=192)
